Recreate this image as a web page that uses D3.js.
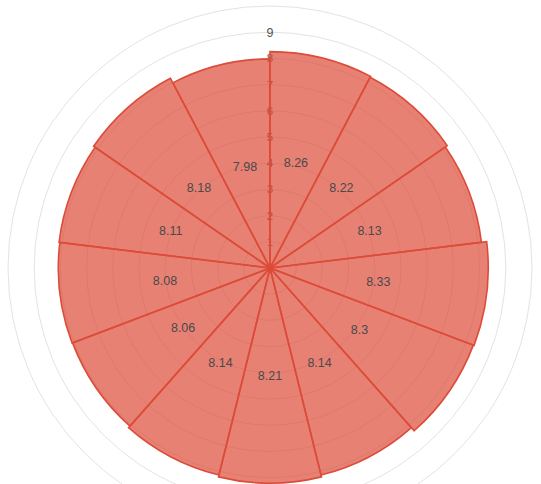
<!DOCTYPE html>
<html>
<head>
<meta charset="UTF-8">
<title>Polar bar</title>
<script src="https://cdn.jsdelivr.net/npm/d3@7"></script>
<style>
  body { margin: 0; background: #fff; }
  text { font-family: "Helvetica Neue", Arial, "Liberation Sans", sans-serif; }
  .grid circle { fill: none; stroke: #e3e3e3; stroke-width: 1px; }
  .ticks text { fill: #555; font-size: 11.5px; }
  .bars path { fill: #dd4b39; fill-opacity: 0.7; stroke: #dd4b39; stroke-width: 1.6px; }
  .labels text { fill: #4a4a4a; font-size: 12.5px; }
</style>
</head>
<body>
<svg width="541" height="484"></svg>
<script>
// sectors clockwise from 12 o'clock
var categories = ["1", "2", "3", "4", "5", "6", "7", "8", "9", "10", "11", "12", "13"];
var values = [8.26, 8.22, 8.13, 8.33, 8.3, 8.14, 8.21, 8.14, 8.06, 8.08, 8.11, 8.18, 7.98];
var tickValues = [1, 2, 3, 4, 5, 6, 7, 8, 9];
var gridValues = [1, 2, 3, 4, 5, 6, 7, 8, 9, 10];

var svg = d3.select("svg"),
    cx = 270, cy = 268;

var r = d3.scaleLinear().domain([0, 10]).range([0, 262]);
var a = d3.scaleBand().domain(categories).range([0, 2 * Math.PI]).padding(0);

var g = svg.append("g").attr("transform", "translate(" + cx + "," + cy + ")");

g.append("g").attr("class", "grid")
    .selectAll("circle")
    .data(gridValues)
    .enter().append("circle")
    .attr("r", function(d) { return r(d); });

g.append("g").attr("class", "ticks")
    .selectAll("text")
    .data(tickValues)
    .enter().append("text")
    .attr("x", 0)
    .attr("y", function(d) { return -r(d); })
    .attr("text-anchor", "middle")
    .attr("dy", "0.35em")
    .style("font-size", function(d) { return d === 9 ? "12.5px" : null; })
    .text(function(d) { return d; });

var arc = d3.arc()
    .innerRadius(0)
    .outerRadius(function(d, i) { return r(d); })
    .startAngle(function(d, i) { return a(categories[i]); })
    .endAngle(function(d, i) { return a(categories[i]) + a.bandwidth(); });

g.append("g").attr("class", "bars")
    .selectAll("path")
    .data(values)
    .enter().append("path")
    .attr("d", function(d, i) { return arc(d, i); });

g.append("g").attr("class", "labels")
    .selectAll("text")
    .data(values)
    .enter().append("text")
    .attr("transform", function(d, i) {
        var ang = a(categories[i]) + a.bandwidth() / 2,
            rr = r(d) / 2;
        return "translate(" + (Math.sin(ang) * rr) + "," + (-Math.cos(ang) * rr) + ")";
    })
    .attr("text-anchor", "middle")
    .attr("dy", "0.35em")
    .text(function(d) { return d; });
</script>
</body>
</html>
